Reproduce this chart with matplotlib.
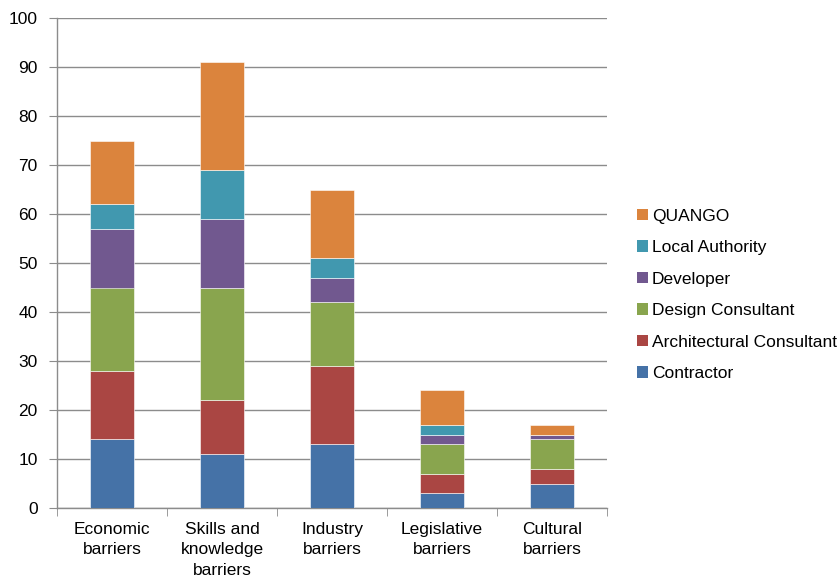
import matplotlib
matplotlib.use("Agg")
import matplotlib.pyplot as plt
from matplotlib.patches import Patch
import numpy as np

plt.rcParams['font.family'] = ['Liberation Sans', 'DejaVu Sans']

categories = ["Economic\nbarriers", "Skills and\nknowledge\nbarriers", "Industry\nbarriers",
              "Legislative\nbarriers", "Cultural\nbarriers"]
series_names = ["Contractor", "Architectural Consultant", "Design Consultant",
                "Developer", "Local Authority", "QUANGO"]
contractor = [14, 11, 13, 3, 5]
architectural = [14, 11, 16, 4, 3]
design = [17, 23, 13, 6, 6]
developer = [12, 14, 5, 2, 1]
local_authority = [5, 10, 4, 2, 0]
quango = [13, 22, 14, 7, 2]
colors = ["#4572A7", "#AA4643", "#89A54E", "#71588F", "#4198AF", "#DB843D"]

data = [contractor, architectural, design, developer, local_authority, quango]

fig = plt.figure(figsize=(8.4, 5.77), dpi=100)
ax = fig.add_axes([57/840, 1-508/577, 550/840, 490/577])

x = np.arange(len(categories))
bottom = np.zeros(len(categories))
for vals, c in zip(data, colors):
    ax.bar(x, vals, width=0.4, bottom=bottom, color=c, edgecolor='white', linewidth=0.4, zorder=3)
    bottom += np.array(vals)

ax.set_xlim(-0.5, len(categories) - 0.5)
ax.set_ylim(0, 100)
ax.set_yticks(range(0, 101, 10))
ax.yaxis.grid(True, color='#8c8c8c', linewidth=1.0, zorder=0)
ax.set_axisbelow(True)

for s in ['top', 'right']:
    ax.spines[s].set_visible(False)
ax.spines['left'].set_color('#8c8c8c')
ax.spines['bottom'].set_color('#8c8c8c')
ax.spines['left'].set_linewidth(1.0)
ax.spines['bottom'].set_linewidth(1.0)

ax.set_xticks(x)
ax.set_xticklabels(categories, fontsize=12.5, linespacing=1.45)
ax.tick_params(axis='x', length=0, pad=10)
ax.set_xticks(np.arange(-0.5, len(categories), 1.0), minor=True)
ax.tick_params(axis='x', which='minor', length=6, color='#8c8c8c', direction='out')
ax.tick_params(axis='y', length=6, color='#8c8c8c', labelsize=12.5, pad=8)

handles = [Patch(facecolor=c, edgecolor='none') for c in colors]
leg = fig.legend(handles[::-1], series_names[::-1], loc='center left',
                 bbox_to_anchor=(625/840, 1-295/577), frameon=False, fontsize=12.5,
                 handlelength=0.65, handleheight=0.65, handletextpad=0.2,
                 labelspacing=0.95, borderpad=0.2)

fig.savefig("out.png", dpi=100)
